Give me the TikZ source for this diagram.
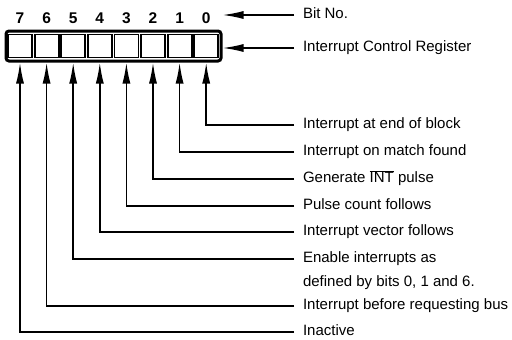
\documentclass[tikz,border=0pt]{standalone}
\usepackage{fontspec}
\setmainfont{Liberation Sans}
\usetikzlibrary{arrows.meta}

\begin{document}
\begin{tikzpicture}[x=1pt, y=-1pt,
  cell/.style={draw, line width=1.8pt, minimum width=24pt, minimum height=23pt, inner sep=0pt},
  bitnum/.style={font=\fontsize{15.5}{18}\selectfont\bfseries},
  lbl/.style={anchor=west, inner sep=0pt, outer xsep=9pt, text height=10pt, text depth=3pt,
    font=\fontsize{15}{17}\selectfont},
  bitarrow/.style={-{Latex[length=21pt, width=8pt]}, line width=1.6pt}]
% Page frame (same size as the scan)
\useasboundingbox (0,0) rectangle (512,340);

% Register frame and its eight cells
\node (reg) [draw, rounded corners=3pt, line width=3pt, minimum width=215pt, minimum height=30pt] at (113.5,46) {};
\node (c7) [cell] at (20,46) {};
\node (c6) [cell] at (46.6,46) {};
\node (c5) [cell] at (73.2,46) {};
\node (c4) [cell] at (99.8,46) {};
\node (c3) [cell] at (126.4,46) {};
\node (c2) [cell] at (153,46) {};
\node (c1) [cell] at (179.6,46) {};
\node (c0) [cell] at (206.2,46) {};

% Bit numbers
\node (n7) [bitnum] at (20,18) {7};
\node (n6) [bitnum] at (46.6,18) {6};
\node (n5) [bitnum] at (73.2,18) {5};
\node (n4) [bitnum] at (99.8,18) {4};
\node (n3) [bitnum] at (126.4,18) {3};
\node (n2) [bitnum] at (153,18) {2};
\node (n1) [bitnum] at (179.6,18) {1};
\node (n0) [bitnum] at (206.2,18) {0};

% Top captions
\node (bitno) [lbl] at (294,15) {Bit No.};
\node (icr) [lbl] at (294,48) {Interrupt Control Register};
\draw[bitarrow] (bitno.west) -- (reg.east |- bitno.west);
\draw[bitarrow] (icr.west) -- (reg.east |- icr.west);

% Bit meanings
\node (l0) [lbl] at (294,125) {Interrupt at end of block};
\node (l1) [lbl] at (294,152) {Interrupt on match found};
\node (l2) [lbl] at (294,179) {Generate $\overline{\mbox{INT}}$ pulse};
\node (l3) [lbl] at (294,206) {Pulse count follows};
\node (l4) [lbl] at (294,232) {Interrupt vector follows};
\node (l5) [lbl] at (294,259) {Enable interrupts as};
\node (l5b) [lbl] at (294,283) {defined by bits 0, 1 and 6.};
\node (l6) [lbl] at (294,306) {Interrupt before requesting bus};
\node (l7) [lbl] at (294,332) {Inactive};

% Arrows up to the register
\draw[bitarrow] (l0.west) -| (c0.south |- reg.south);
\draw[bitarrow] (l1.west) -| (c1.south |- reg.south);
\draw[bitarrow] (l2.west) -| (c2.south |- reg.south);
\draw[bitarrow] (l3.west) -| (c3.south |- reg.south);
\draw[bitarrow] (l4.west) -| (c4.south |- reg.south);
\draw[bitarrow] (l5.west) -| (c5.south |- reg.south);
\draw[bitarrow] (l6.west) -| (c6.south |- reg.south);
\draw[bitarrow] (l7.west) -| (c7.south |- reg.south);
\end{tikzpicture}
\end{document}
